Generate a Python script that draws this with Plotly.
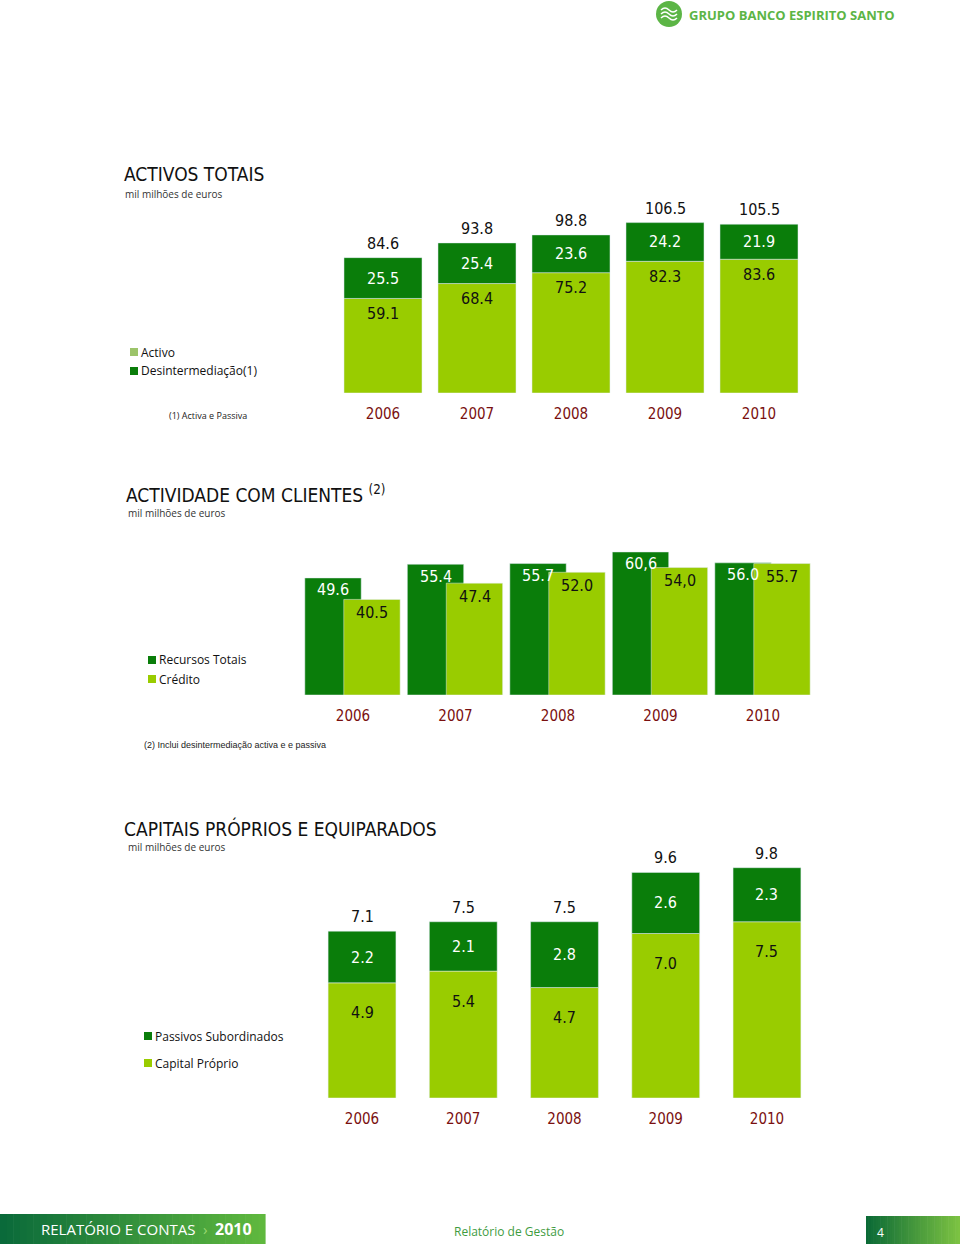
import plotly.graph_objects as go

# ---------------- data ----------------
years = ["2006", "2007", "2008", "2009", "2010"]

# Chart 1: Activos totais
activo = [59.1, 68.4, 75.2, 82.3, 83.6]
desintermediacao = [25.5, 25.4, 23.6, 24.2, 21.9]
activos_totais = [84.6, 93.8, 98.8, 106.5, 105.5]

# Chart 2: Actividade com clientes
recursos_totais = [49.6, 55.4, 55.7, 60.6, 56.0]
recursos_labels = ["49.6", "55.4", "55.7", "60,6", "56.0"]
credito = [40.5, 47.4, 52.0, 54.0, 55.7]
credito_labels = ["40.5", "47.4", "52.0", "54,0", "55.7"]

# Chart 3: Capitais próprios e equiparados
capital_proprio = [4.9, 5.4, 4.7, 7.0, 7.5]
passivos_subordinados = [2.2, 2.1, 2.8, 2.6, 2.3]
capitais_totais = [7.1, 7.5, 7.5, 9.6, 9.8]

# ---------------- style ----------------
W, H = 960, 1246
DARK = "#0a7d0a"
LIGHT = "#99cc00"
LEGEND_PALE = "#9cc46a"
YEAR_COL = "#7a1010"
NUM_FONT = "Liberation Sans Narrow, DejaVu Sans Condensed, Open Sans, sans-serif"
TXT_FONT = "Open Sans, Noto Sans, sans-serif"


def xd(a, b):
    return [a / W, b / W]


def yd(top, bottom):
    return [1 - bottom / H, 1 - top / H]


def px(x):
    return x / W


def py(y):
    return 1 - y / H


fig = go.Figure()
idx = list(range(len(years)))

# Chart 1 (stacked via base)
fig.add_trace(go.Bar(x=idx, y=activo, marker_color=LIGHT, width=0.83,
                     xaxis="x", yaxis="y", name="Activo", showlegend=False))
fig.add_trace(go.Bar(x=idx, y=desintermediacao, base=activo, marker_color=DARK,
                     width=0.83, xaxis="x", yaxis="y", name="Desintermediação(1)",
                     showlegend=False))

# Chart 2 (overlapping grouped bars)
fig.add_trace(go.Bar(x=idx, y=recursos_totais, marker_color=DARK, width=0.55,
                     offset=-0.47, xaxis="x2", yaxis="y2", name="Recursos Totais",
                     showlegend=False))
fig.add_trace(go.Bar(x=idx, y=credito, marker_color=LIGHT, width=0.55,
                     offset=-0.09, xaxis="x2", yaxis="y2", name="Crédito",
                     showlegend=False))

# Chart 3 (stacked via base)
fig.add_trace(go.Bar(x=idx, y=capital_proprio, marker_color=LIGHT, width=0.67,
                     xaxis="x3", yaxis="y3", name="Capital Próprio", showlegend=False))
fig.add_trace(go.Bar(x=idx, y=passivos_subordinados, base=capital_proprio,
                     marker_color=DARK, width=0.67, xaxis="x3", yaxis="y3",
                     name="Passivos Subordinados", showlegend=False))

ann = []


def num(x, y, text, color, xref, yref, yshift=0, yanchor="middle", size=16):
    ann.append(dict(x=x, y=y, text=text, xref=xref, yref=yref, showarrow=False,
                    yshift=yshift, yanchor=yanchor, xanchor="center",
                    font=dict(family=NUM_FONT, size=size, color=color)))


for i in idx:
    num(i, activos_totais[i], f"{activos_totais[i]:.1f}", "#111", "x", "y", yshift=3, yanchor="bottom")
    num(i, activo[i] + desintermediacao[i] / 2, f"{desintermediacao[i]:.1f}", "white", "x", "y")
    num(i, activo[i], f"{activo[i]:.1f}", "#111", "x", "y", yshift=-15)

    num(i - 0.195, recursos_totais[i], recursos_labels[i], "white", "x2", "y2", yshift=-12)
    num(i + 0.19, credito[i], credito_labels[i], "#111", "x2", "y2", yshift=-13)

    num(i, capitais_totais[i], f"{capitais_totais[i]:.1f}", "#111", "x3", "y3", yshift=3, yanchor="bottom")
    num(i, capital_proprio[i] + passivos_subordinados[i] / 2, f"{passivos_subordinados[i]:.1f}",
        "white", "x3", "y3")
    num(i, capital_proprio[i], f"{capital_proprio[i]:.1f}", "#111", "x3", "y3", yshift=-30)


def text(x, y, t, size, color="#111", family=TXT_FONT, xanchor="left"):
    ann.append(dict(x=px(x), y=py(y), text=t, xref="paper", yref="paper",
                    showarrow=False, xanchor=xanchor, yanchor="middle",
                    font=dict(family=family, size=size, color=color)))


# titles
text(122, 174, "ACTIVOS TOTAIS", 19, family=NUM_FONT)
text(123, 194, "mil milhões de euros", 10, color="#333")
text(124, 494, "ACTIVIDADE COM CLIENTES <sup>(2)</sup>", 19, family=NUM_FONT)
text(126, 513, "mil milhões de euros", 10, color="#333")
text(122, 828, "CAPITAIS PRÓPRIOS E EQUIPARADOS", 19, family=NUM_FONT)
text(126, 847, "mil milhões de euros", 10, color="#333")

# legends
shapes = []


def legend(x, y, color, label):
    shapes.append(dict(type="rect", xref="paper", yref="paper",
                       x0=px(x), x1=px(x + 8), y0=py(y + 4), y1=py(y - 4),
                       fillcolor=color, line=dict(width=0)))
    text(x + 9, y, label, 12)


legend(130, 352, LEGEND_PALE, "Activo")
legend(130, 371, DARK, "Desintermediação(1)")
text(167, 415, "(1) Activa e Passiva", 9, color="#222")
legend(148, 660, DARK, "Recursos Totais")
legend(148, 679, LIGHT, "Crédito")
text(142, 745, "(2) Inclui desintermediação activa e e passiva", 9, color="#222",
     family="Liberation Sans, Arial, sans-serif")
legend(144, 1036, DARK, "Passivos Subordinados")
legend(144, 1063, LIGHT, "Capital Próprio")

# header logo
shapes.append(dict(type="circle", xref="paper", yref="paper",
                   x0=px(656), x1=px(682), y0=py(27), y1=py(1),
                   fillcolor="#5cb546", line=dict(width=0)))
for dy in (-4, 0, 4):
    shapes.append(dict(type="path", xref="paper", yref="paper",
                       path=f"M {px(661)},{py(14+dy)} Q {px(665)},{py(10+dy)} {px(669)},{py(14+dy)} T {px(677)},{py(14+dy)}",
                       line=dict(color="white", width=1.5)))
text(687, 15, "<b>GRUPO BANCO ESPIRITO SANTO</b>", 13, color="#5cb546",
     family="Open Sans, sans-serif")


# footer gradient bars
def lerp(c1, c2, t):
    a = [int(c1[i:i + 2], 16) for i in (1, 3, 5)]
    b = [int(c2[i:i + 2], 16) for i in (1, 3, 5)]
    return "#" + "".join(f"{round(a[k] + (b[k] - a[k]) * t):02x}" for k in range(3))


n = 40
x0, x1 = 0, 265
for k in range(n):
    a = x0 + (x1 - x0) * k / n
    b = x0 + (x1 - x0) * (k + 1) / n + 0.6
    shapes.append(dict(type="rect", xref="paper", yref="paper", x0=px(a), x1=px(b),
                       y0=py(1244), y1=py(1214), fillcolor=lerp("#0a6a3a", "#5fb83e", k / (n - 1)),
                       line=dict(width=0)))
x0, x1 = 866, 960
for k in range(n):
    a = x0 + (x1 - x0) * k / n
    b = x0 + (x1 - x0) * (k + 1) / n + 0.6
    shapes.append(dict(type="rect", xref="paper", yref="paper", x0=px(a), x1=px(b),
                       y0=py(1244), y1=py(1216), fillcolor=lerp("#0b6a36", "#7cc242", k / (n - 1)),
                       line=dict(width=0)))

text(39, 1229, "RELATÓRIO E CONTAS", 15, color="white", family=TXT_FONT)
text(201, 1229, "›", 15, color="#9ad870", family=TXT_FONT)
text(213, 1229, "<b>2010</b>", 16, color="white", family=TXT_FONT)
text(452, 1231, "Relatório de Gestão", 12, color="#3f9c3f", family=TXT_FONT)
text(875, 1232, "4", 12, color="white", family=TXT_FONT)

common_x = dict(tickmode="array", tickvals=idx, ticktext=years, range=[-0.5, 4.5],
                showgrid=False, zeroline=False, showline=False, ticks="",
                tickfont=dict(family=NUM_FONT, size=15, color=YEAR_COL),
                ticklabelstandoff=10, fixedrange=True)
common_y = dict(showgrid=False, zeroline=False, showline=False, showticklabels=False,
                ticks="", fixedrange=True)

fig.update_layout(
    width=W, height=H,
    margin=dict(l=0, r=0, t=0, b=0),
    paper_bgcolor="white", plot_bgcolor="rgba(0,0,0,0)",
    barmode="overlay",
    showlegend=False,
    xaxis=dict(domain=xd(336, 806), anchor="y", **common_x),
    yaxis=dict(domain=yd(195, 393), range=[0, (393 - 195) / 1.6], anchor="x", **common_y),
    xaxis2=dict(domain=xd(301.75, 814.25), anchor="y2", **common_x),
    yaxis2=dict(domain=yd(520, 695), range=[0, 175 / 2.36], anchor="x2", **common_y),
    xaxis3=dict(domain=xd(311.4, 817.6), anchor="y3", **common_x),
    yaxis3=dict(domain=yd(840, 1098), range=[0, 258 / 23.5], anchor="x3", **common_y),
    annotations=ann,
    shapes=shapes,
)

fig.write_html("out.html", config={"displayModeBar": False},
               post_script="document.body.style.margin='0';document.body.style.overflow='hidden';")
